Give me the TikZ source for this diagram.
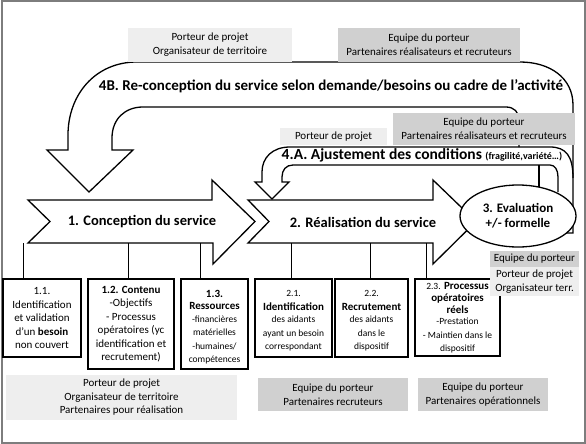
\documentclass[tikz,border=0pt]{standalone}
\usepackage{fontspec}
\setmainfont{Carlito}
\usetikzlibrary{shapes.geometric}
\definecolor{lightg}{RGB}{238,238,238}
\definecolor{darkg}{RGB}{208,208,208}
\definecolor{framec}{RGB}{125,125,125}
\newcommand{\smf}{\fontsize{9.5}{11.5}\selectfont}
\newcommand{\smg}{\fontsize{9.5}{12}\selectfont}
\newcommand{\smh}{\fontsize{9.5}{11.3}\selectfont}
\begin{document}
\begin{tikzpicture}[x=1pt,y=-1pt,line width=1.3pt,line join=miter,
  lbox/.style={fill=lightg,inner sep=0pt,align=center,font=\fontsize{11}{14}\selectfont},
  dbox/.style={fill=darkg,inner sep=0pt,align=center,font=\fontsize{11}{14}\selectfont},
  subbox/.style={draw,fill=white,line width=1.3pt,inner sep=0pt,align=center,font=\fontsize{11}{13.5}\selectfont},
  bigtitle/.style={font=\bfseries\fontsize{14.5}{17}\selectfont,inner sep=0pt},
  bandline/.style={draw=black,line width=1.3pt}]
\useasboundingbox (0,0) rectangle (586,444);
\draw[framec,line width=2pt] (1.5,1.5) rectangle (584.5,442.5);

% 4B U-arrow
\draw[bandline] (566,233) -- (573,233) -- (573,105)
  .. controls (573,78) and (550,62) .. (520,62) -- (137,62)
  .. controls (95,62) and (68,95) .. (68,135) -- (68,150) -- (47,150) -- (89,192)
  -- (133,150) -- (112,150) -- (112,138)
  .. controls (112,119) and (125,107) .. (143,107) -- (506,107)
  .. controls (514,107) and (519,112) .. (519,120) -- (519,147);
% 4A U-arrow
\draw[bandline] (573,178) .. controls (573,156) and (566,147) .. (550,147) -- (290,147)
  .. controls (272,147) and (262,158) .. (262,172) -- (262,182) -- (255,182) -- (272,199)
  -- (289,182) -- (282,182) -- (282,177)
  .. controls (282,170) and (286,165) .. (293,165) -- (550,165)
  .. controls (555,165) and (558,170) .. (558,177) -- (558,192);
\draw[bandline] (539,165) -- (539,187);

% chevrons
\draw[fill=white] (28,200) -- (212,200) -- (212,180) -- (255,221.5) -- (213,264) -- (213,243)
  -- (28,243) -- (50,221.5) -- cycle;
\draw[fill=white] (248,200) -- (433,200) -- (433,180) -- (476,221.5) -- (433,264) -- (433,243)
  -- (248,243) -- (269,221.5) -- cycle;
\coordinate (sb) at (0,243);
\node[bigtitle] (c1) at (142,222) {1. Conception du service};
\node[bigtitle] (c2) at (363,222) {2. Réalisation du service};

\node[draw,ellipse,fill=white,minimum width=116pt,minimum height=62pt,inner sep=0pt,align=center,
  font=\bfseries\fontsize{13}{15}\selectfont] (ev) at (518,216) {3. Evaluation\\+/- formelle};

\node[bigtitle,font=\bfseries\fontsize{15}{17}\selectfont] (t4b) at (331,86) {4B. Re-conception du service selon demande/besoins ou cadre de l’activité};
\node[bigtitle,anchor=west,font=\bfseries\fontsize{15.5}{17}\selectfont] (t4a) at (281,155) {4.A. Ajustement des conditions {\fontsize{10}{11}\selectfont (fragilité,variété…)}};

% gray label boxes
\node[lbox,minimum width=164pt,minimum height=34pt] (l1) at (210,45) {Porteur de projet\\Organisateur de territoire};
\node[dbox,minimum width=182pt,minimum height=34pt] (d1) at (429,45) {Equipe du porteur\\Partenaires réalisateurs et recruteurs};
\node[lbox,minimum width=107pt,minimum height=17pt] (l2) at (333.5,136.5) {Porteur de projet};
\node[dbox,minimum width=182pt,minimum height=32pt] (d2) at (484,129) {Equipe du porteur\\Partenaires réalisateurs et recruteurs};
\node[lbox,minimum width=231pt,minimum height=45pt,font=\fontsize{11}{13.5}\selectfont] (l4) at (121.5,397.5) {Porteur de projet\\Organisateur de territoire\\Partenaires pour réalisation};
\node[dbox,minimum width=150pt,minimum height=33pt] (d4) at (333,394.5) {Equipe du porteur\\Partenaires recruteurs};
\node[dbox,minimum width=130pt,minimum height=33pt] (d5) at (483,394.5) {Equipe du porteur\\Partenaires opérationnels};

% sub boxes
\node[subbox,minimum width=78pt,minimum height=78pt] (b11) at (42,318)
  {1.1.\\Identification\\et validation\\d’un \textbf{besoin}\\non couvert};
\node[subbox,minimum width=86pt,minimum height=90pt] (b12) at (131,324)
  {\textbf{1.2. Contenu}\\-Objectifs\\- Processus\\opératoires (yc\\identification et\\recrutement)};
\node[subbox,minimum width=67pt,minimum height=90pt] (b13) at (214.5,324)
  {\rule{0pt}{14pt}\textbf{1.3.}\\[-1.5pt]\textbf{Ressources}\\[-1pt]\smf -financières\\\smf matérielles\\\smf -humaines/\\\smf compétences};
\node[subbox,minimum width=77pt,minimum height=78pt] (b21) at (293.5,318)
  {\rule{0pt}{12pt}\smg 2.1.\\\textbf{Identification}\\[-1pt]\smg des aidants\\\smg ayant un besoin\\\smg correspondant};
\node[subbox,minimum width=73pt,minimum height=78pt] (b22) at (371.5,318)
  {\rule{0pt}{12pt}\smg 2.2.\\\textbf{Recrutement}\\[-1pt]\smg des aidants\\\smg dans le\\\smg dispositif};
\node[subbox,minimum width=85pt,minimum height=77pt] (b23) at (457.5,317.5)
  {{\smg 2.3.} \textbf{Processus}\\[-1pt]\textbf{opératoires}\\[-1.5pt]\textbf{réels}\\[-2.5pt]\smh -Prestation\\\smh - Maintien dans le\\\smh dispositif};

% right-side labels (drawn over box 2.3)
\node[dbox,minimum width=89pt,minimum height=16pt] (d3) at (534.5,259) {Equipe du porteur};
\node[lbox,minimum width=89pt,minimum height=29pt] (l3) at (534.5,281.5) {Porteur de projet\\Organisateur terr.};

% connectors
\draw ([xshift=21pt]b11.north west) -- ([xshift=21pt]b11.north west |- sb);
\draw ([xshift=41pt]b12.north west) -- ([xshift=41pt]b12.north west |- sb);
\draw ([xshift=20pt]b13.north west) -- ([xshift=20pt]b13.north west |- sb);
\draw ([xshift=37pt]b21.north west) -- ([xshift=37pt]b21.north west |- sb);
\draw ([xshift=36pt]b22.north west) -- ([xshift=36pt]b22.north west |- sb);
\draw ([xshift=12pt]b23.north west) -- ([xshift=12pt]b23.north west |- sb);
\end{tikzpicture}
\end{document}
